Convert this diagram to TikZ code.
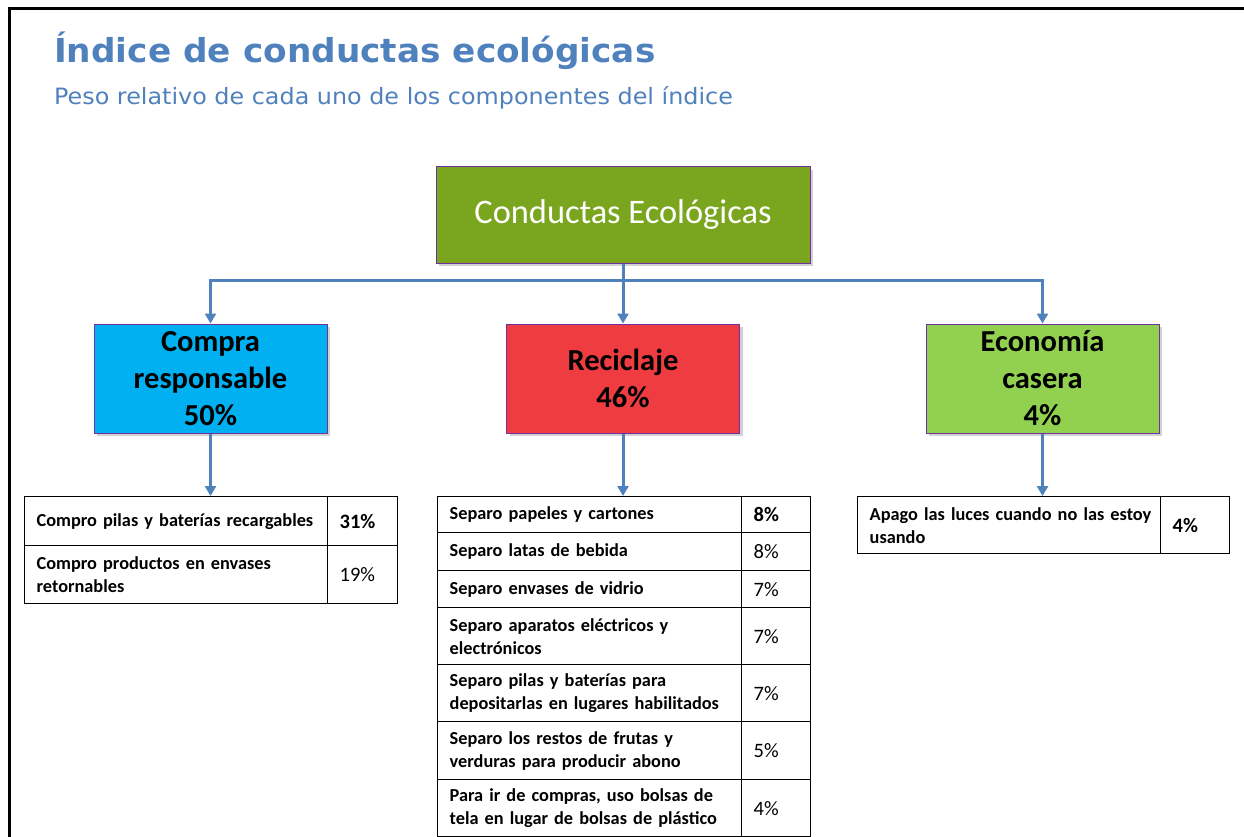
\documentclass[tikz,border=0pt]{standalone}
\usepackage{fontspec}
\setmainfont{Carlito}
\newfontfamily\titlefont[FakeStretch=1.04]{DejaVu Sans}
\newfontfamily\subtfont[FakeStretch=1.06]{DejaVu Sans}
\usetikzlibrary{shadows,arrows.meta}
\definecolor{titleblue}{HTML}{4F81BD}
\definecolor{connblue}{HTML}{4F81BD}
\definecolor{boxpurple}{HTML}{7030A0}
\definecolor{rootgreen}{HTML}{7AA51E}
\definecolor{cyanbox}{HTML}{00B0F0}
\definecolor{redbox}{HTML}{EE3C40}
\definecolor{greenbox}{HTML}{92D050}
\tikzset{
  topbox/.style={draw=boxpurple, line width=1pt, inner sep=0pt, align=center,
    drop shadow={shadow xshift=3pt, shadow yshift=-3pt, opacity=0.3, fill=black!60}},
  rootbox/.style={topbox, fill=rootgreen, text=white, minimum width=374pt, minimum height=96pt,
    font=\fontsize{34.4}{40}\selectfont},
  catbox/.style={topbox, minimum width=233pt, minimum height=109pt,
    font=\bfseries\fontsize{30.5}{37}\selectfont},
  conn/.style={draw=connblue, line width=3pt},
  arr/.style={conn, -{Triangle[width=11pt,length=10pt]}},
  cell/.style={draw=black, line width=1.4pt, anchor=north west, inner xsep=12pt, inner ysep=0pt,
    align=left, font=\bfseries\fontsize{18.3}{23}\selectfont},
  pct/.style={cell, font=\fontsize{20.5}{23}\selectfont},
  pctb/.style={cell, font=\bfseries\fontsize{20.5}{23}\selectfont},
}
\begin{document}
\begin{tikzpicture}[x=1pt,y=-1pt]
\useasboundingbox (0,0) rectangle (1244,837);
\draw[line width=3pt] (9,837) -- (9,9) -- (1244,9);

\node[anchor=base west, text=titleblue, font=\titlefont\bfseries\fontsize{33}{38}\selectfont, inner sep=0pt] (title) at (54,63) {Índice de conductas ecológicas};
\node[anchor=base west, text=titleblue, font=\subtfont\fontsize{22.5}{26}\selectfont, inner sep=0pt] (subtitle) at (54,105) {Peso relativo de cada uno de los componentes del índice};

\node[rootbox] (root) at (623,215) {Conductas Ecológicas};
\node[catbox, fill=cyanbox] (compra) at (210.5,378.5) {Compra\\responsable\\50\%};
\node[catbox, fill=redbox] (recic) at (623,378.5) {Reciclaje\\46\%};
\node[catbox, fill=greenbox] (econ) at (1042.5,378.5) {Economía\\casera\\4\%};

\coordinate (hub) at (623,280);
\draw[conn] (root.south) -- (hub);
\draw[arr] (hub) -| (compra.north);
\draw[arr] (hub) -- (recic.north);
\draw[arr] (hub) -| (econ.north);

% left table
\node[cell, minimum height=49pt, text width=279pt] (a1) at (24,496) {\mbox{Compro pilas y baterías recargables}};
\node[pctb, minimum height=49pt, text width=46pt] (a1p) at (327,496) {31\%};
\node[cell, minimum height=58pt, text width=279pt] (a2) at (24,545) {\mbox{Compro productos en envases}\\retornables};
\node[pct, minimum height=58pt, text width=46pt] (a2p) at (327,545) {19\%};

% middle table
\node[cell, minimum height=36pt, text width=280pt] (b1) at (437,496) {\mbox{Separo papeles y cartones}};
\node[pctb, minimum height=36pt, text width=45pt] (b1p) at (741,496) {8\%};
\node[cell, minimum height=38pt, text width=280pt] (b2) at (437,532) {\mbox{Separo latas de bebida}};
\node[pct, minimum height=38pt, text width=45pt] (b2p) at (741,532) {8\%};
\node[cell, minimum height=37pt, text width=280pt] (b3) at (437,570) {\mbox{Separo envases de vidrio}};
\node[pct, minimum height=37pt, text width=45pt] (b3p) at (741,570) {7\%};
\node[cell, minimum height=57pt, text width=280pt] (b4) at (437,607) {\mbox{Separo aparatos eléctricos y}\\electrónicos};
\node[pct, minimum height=57pt, text width=45pt] (b4p) at (741,607) {7\%};
\node[cell, minimum height=57pt, text width=280pt] (b5) at (437,664) {\mbox{Separo pilas y baterías para}\\\mbox{depositarlas en lugares habilitados}};
\node[pct, minimum height=57pt, text width=45pt] (b5p) at (741,664) {7\%};
\node[cell, minimum height=58pt, text width=280pt] (b6) at (437,721) {\mbox{Separo los restos de frutas y}\\\mbox{verduras para producir abono}};
\node[pct, minimum height=58pt, text width=45pt] (b6p) at (741,721) {5\%};
\node[cell, minimum height=57pt, text width=280pt] (b7) at (437,779) {\mbox{Para ir de compras, uso bolsas de}\\\mbox{tela en lugar de bolsas de plástico}};
\node[pct, minimum height=57pt, text width=45pt] (b7p) at (741,779) {4\%};

% right table
\node[cell, minimum height=57pt, text width=279pt] (c1) at (857,496) {\mbox{Apago las luces cuando no las estoy}\\usando};
\node[pctb, minimum height=57pt, text width=45pt] (c1p) at (1160,496) {4\%};

\draw[arr] (compra.south) -- (compra.south |- a1.north);
\draw[arr] (recic.south) -- (recic.south |- b1.north);
\draw[arr] (econ.south) -- (econ.south |- c1.north);
\end{tikzpicture}
\end{document}
